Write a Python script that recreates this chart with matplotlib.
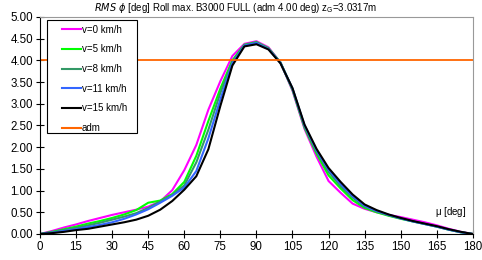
import numpy as np
import matplotlib
matplotlib.use('Agg')
import matplotlib.pyplot as plt
from matplotlib.patches import Rectangle

plt.rcParams['font.family'] = ['Liberation Sans', 'DejaVu Sans']

# heading angle mu [deg]
mu = list(range(0, 185, 5))

# RMS roll [deg] per speed
v0 = [0, 0.07, 0.15, 0.22, 0.30, 0.37, 0.44, 0.50, 0.56, 0.63, 0.75, 1.01, 1.47, 2.05, 2.86, 3.52, 4.10, 4.38, 4.44, 4.30,
      3.95, 3.30, 2.42, 1.78, 1.22, 0.95, 0.70, 0.58, 0.50, 0.44, 0.39, 0.33, 0.27, 0.20, 0.12, 0.05, 0]
v5 = [0, 0.05, 0.11, 0.17, 0.24, 0.30, 0.37, 0.45, 0.55, 0.72, 0.77, 0.92, 1.20, 1.80, 2.60, 3.35, 4.00, 4.36, 4.42, 4.28,
      3.95, 3.32, 2.45, 1.85, 1.35, 1.05, 0.78, 0.60, 0.50, 0.42, 0.35, 0.29, 0.23, 0.17, 0.10, 0.04, 0]
v8 = [0, 0.04, 0.09, 0.14, 0.20, 0.26, 0.33, 0.40, 0.48, 0.60, 0.75, 0.90, 1.12, 1.65, 2.40, 3.25, 3.97, 4.35, 4.41, 4.27,
      3.95, 3.34, 2.48, 1.90, 1.43, 1.10, 0.84, 0.63, 0.52, 0.43, 0.36, 0.29, 0.23, 0.17, 0.10, 0.04, 0]
v11 = [0, 0.03, 0.07, 0.11, 0.16, 0.21, 0.27, 0.35, 0.45, 0.57, 0.72, 0.88, 1.07, 1.45, 2.20, 3.10, 3.93, 4.34, 4.40, 4.26,
       3.94, 3.35, 2.50, 1.93, 1.48, 1.15, 0.87, 0.65, 0.53, 0.44, 0.36, 0.29, 0.23, 0.17, 0.10, 0.04, 0]
v15 = [0, 0.02, 0.05, 0.09, 0.12, 0.17, 0.22, 0.27, 0.33, 0.42, 0.56, 0.76, 1.02, 1.33, 1.95, 2.95, 3.88, 4.32, 4.37, 4.25,
       3.93, 3.36, 2.52, 1.96, 1.52, 1.20, 0.91, 0.68, 0.55, 0.45, 0.37, 0.30, 0.24, 0.18, 0.11, 0.05, 0]
adm = 4.00

series = [(v0, '#FF00FF', 'v=0 km/h'),
          (v5, '#00FF00', 'v=5 km/h'),
          (v8, '#339966', 'v=8 km/h'),
          (v11, '#3366FF', 'v=11 km/h'),
          (v15, '#000000', 'v=15 km/h')]

fig = plt.figure(figsize=(4.82, 2.6), dpi=100)
ax = fig.add_axes([0.083, 0.1, 0.898, 0.835])

for y, c, lab in series:
    ax.plot(mu, y, color=c, lw=1.5, label=lab)
ax.plot([0, 180], [adm, adm], color='#FF6600', lw=1.3, label='adm')

ax.set_xlim(0, 180)
ax.set_ylim(0, 5)
ax.set_xticks(range(0, 181, 15))
ax.set_yticks(np.arange(0, 5.01, 0.5))
ax.set_yticklabels(['%.2f' % t for t in np.arange(0, 5.01, 0.5)])
ax.tick_params(direction='inout', length=6, width=0.8, labelsize=8.3, pad=2)

for s in ['top', 'right']:
    ax.spines[s].set_color('#999999')
for s in ['left', 'bottom']:
    ax.spines[s].set_color('black')

ax.text(0.985, 0.1, r'$\mathregular{\mu}$ [deg]', transform=ax.transAxes, ha='right', va='center', fontsize=7)
ax.text(0.452, 1.008, r'$\it{RMS}\ \phi$ [deg] Roll max. B3000 FULL (adm 4.00 deg) z$_\mathregular{G}$=3.0317m',
        transform=ax.transAxes, ha='center', va='bottom', fontsize=7)

# legend frame drawn separately to get the wide box of the original
ax.add_patch(Rectangle((0.016, 0.465), 0.208, 0.52, transform=ax.transAxes, facecolor='white',
                       edgecolor='black', lw=0.8, zorder=5))
leg = ax.legend(loc='upper left', bbox_to_anchor=(0.043, 0.978), fontsize=7, handlelength=2.0,
                handletextpad=0.1, labelspacing=1.0, borderpad=0.3, frameon=False,
                borderaxespad=0)
leg.set_zorder(6)
for h in leg.get_lines():
    h.set_linewidth(1.5)

fig.savefig('out.png', dpi=100)
